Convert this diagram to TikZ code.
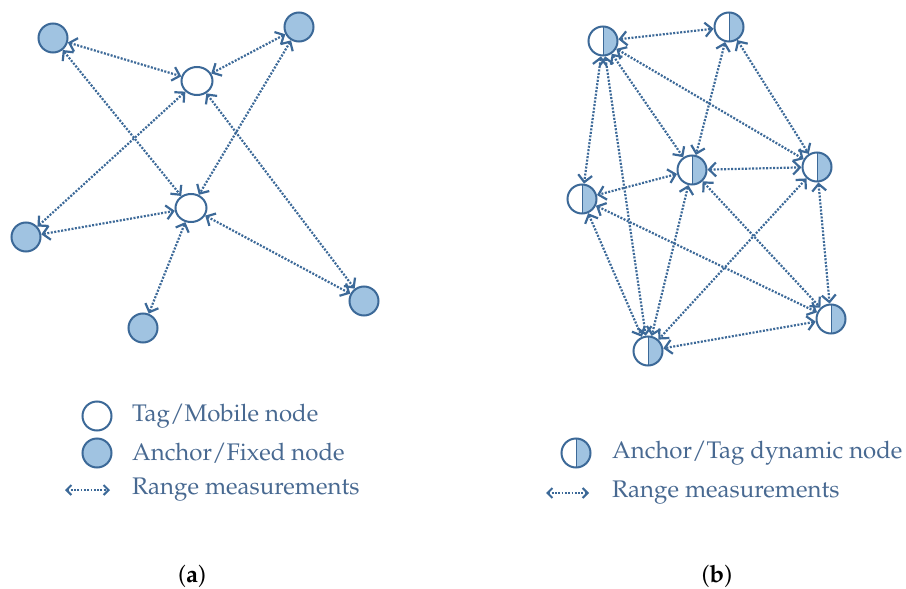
\documentclass[tikz,border=0pt]{standalone}
\usepackage[T1]{fontenc}
\usepackage{mathpazo}
\usetikzlibrary{arrows.meta,shapes.geometric}
\definecolor{strokeblue}{RGB}{60,105,152}
\definecolor{fillblue}{RGB}{160,195,225}
\definecolor{textblue}{RGB}{72,105,145}
\begin{document}
\begin{tikzpicture}[x=1pt,y=-1pt,
  anchornode/.style={circle,draw=strokeblue,fill=fillblue,line width=2pt,minimum size=29pt,inner sep=0pt},
  tagnode/.style={ellipse,draw=strokeblue,fill=white,line width=2pt,minimum width=31pt,minimum height=28pt,inner sep=0pt},
  dynnode/.style={circle,draw=strokeblue,fill=white,line width=2pt,minimum size=29pt,inner sep=0pt,
    path picture={\fill[fillblue] (path picture bounding box.north) rectangle (path picture bounding box.south east);
      \draw[strokeblue,line width=0.8pt] (path picture bounding box.north) -- (path picture bounding box.south);}},
  rng/.style={draw=strokeblue,line width=2.2pt,dash pattern=on 2pt off 1.5pt,
    {Straight Barb[length=7pt,width=14pt]}-{Straight Barb[length=7pt,width=14pt]}},
  lrng/.style={draw=strokeblue,line width=2pt,dash pattern=on 1.8pt off 1.5pt,
    {Straight Barb[length=5pt,width=10pt]}-{Straight Barb[length=5pt,width=10pt]}},
  legtext/.style={anchor=west,text=textblue,font=\fontsize{24}{28}\selectfont,inner sep=0pt},
  captext/.style={text=black,font=\fontsize{24}{28}\selectfont,inner sep=0pt}
]
\useasboundingbox (0,0) rectangle (906,589);
% ---- (a)
\node[anchornode] (A1) at (53,38) {};
\node[anchornode] (A2) at (299,27) {};
\node[tagnode] (T1) at (197,81) {};
\node[tagnode] (T2) at (191,208) {};
\node[anchornode] (A3) at (26,237) {};
\node[anchornode] (A4) at (143,328) {};
\node[anchornode] (A5) at (364,301) {};
\draw[rng] (A1) -- (T1);
\draw[rng] (A1) -- (T2);
\draw[rng] (A2) -- (T1);
\draw[rng] (A2) -- (T2);
\draw[rng] (A3) -- (T1);
\draw[rng] (A3) -- (T2);
\draw[rng] (A4) -- (T2);
\draw[rng] (A5) -- (T1);
\draw[rng] (A5) -- (T2);
% ---- (b)
\node[dynnode] (B1) at (603,41) {};
\node[dynnode] (B2) at (729,27) {};
\node[dynnode] (B3) at (692,170) {};
\node[dynnode] (B4) at (817,167) {};
\node[dynnode] (B5) at (582,199) {};
\node[dynnode] (B6) at (831,319) {};
\node[dynnode] (B7) at (648,351) {};
\draw[rng] (B1) -- (B2);
\draw[rng] (B1) -- (B5);
\draw[rng] (B1) -- (B7);
\draw[rng] (B1) -- (B3);
\draw[rng] (B1) -- (B4);
\draw[rng] (B2) -- (B3);
\draw[rng] (B2) -- (B4);
\draw[rng] (B3) -- (B4);
\draw[rng] (B3) -- (B5);
\draw[rng] (B3) -- (B7);
\draw[rng] (B3) -- (B6);
\draw[rng] (B4) -- (B7);
\draw[rng] (B4) -- (B6);
\draw[rng] (B5) -- (B7);
\draw[rng] (B5) -- (B6);
\draw[rng] (B6) -- (B7);
% ---- legend (a)
\node[tagnode,minimum width=29pt,minimum height=29pt] (LT) at (97,416) {};
\node[legtext] (LTt) at (132,416) {Tag/Mobile node};
\node[anchornode] (LA) at (97,453) {};
\node[legtext] (LAt) at (132,453) {Anchor/Fixed node};
\coordinate (LR1) at (65,490);
\coordinate (LR2) at (110,490);
\draw[lrng] (LR1) -- (LR2);
\node[legtext] (LRt) at (132,490) {Range measurements};
% ---- legend (b)
\node[dynnode] (LD) at (576,453) {};
\node[legtext] (LDt) at (612,453) {Anchor/Tag dynamic node};
\coordinate (LS1) at (546,493);
\coordinate (LS2) at (589,493);
\draw[lrng] (LS1) -- (LS2);
\node[legtext] (LSt) at (612,493) {Range measurements};
% ---- captions
\node[captext] (CA) at (192,576) {(\textbf{a})};
\node[captext] (CB) at (717,576) {(\textbf{b})};
\end{tikzpicture}
\end{document}
